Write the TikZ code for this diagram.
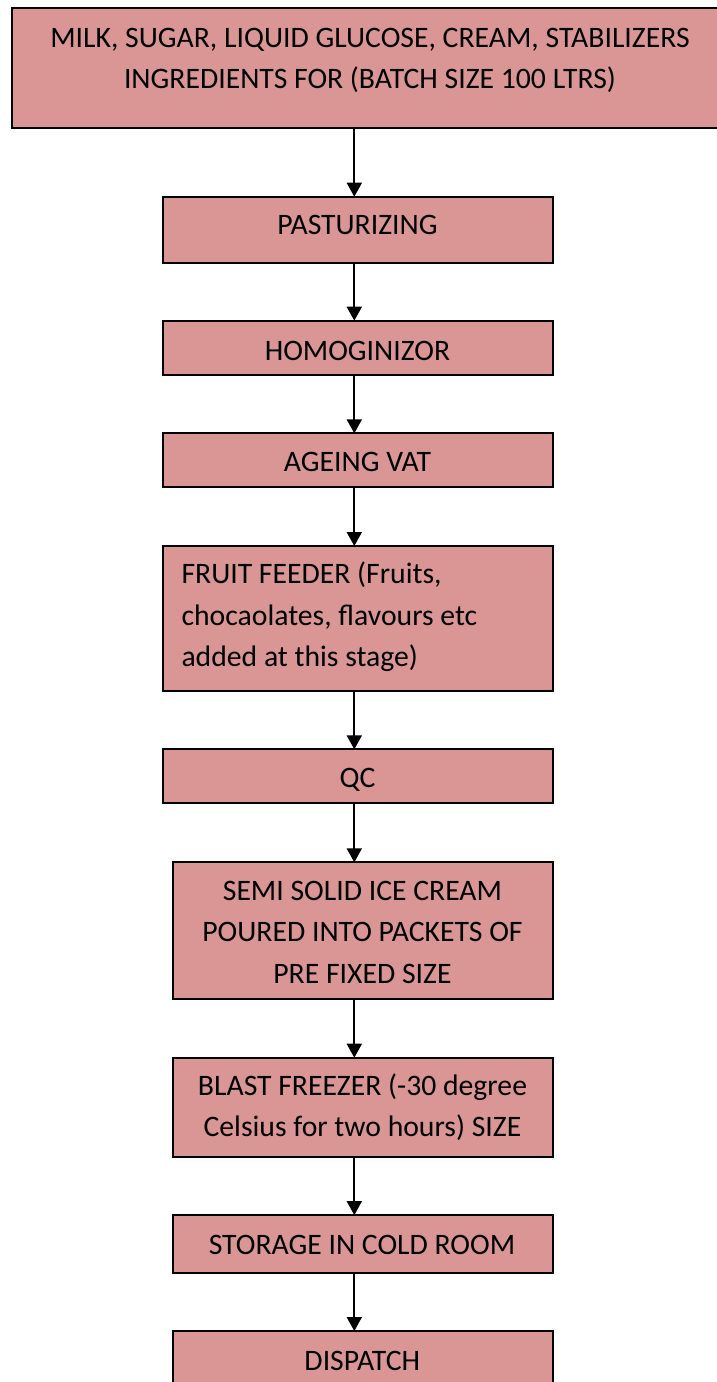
\documentclass[tikz,border=0pt]{standalone}
\usepackage{fontspec}
\setmainfont{Carlito}
\usetikzlibrary{arrows.meta}
\definecolor{boxfill}{RGB}{217,150,148}
\tikzset{
  stepbox/.style={draw=black, fill=boxfill, line width=2pt, rectangle, inner sep=0pt, outer sep=0pt},
  txt/.style={inner sep=0pt, outer sep=0pt, align=center, font=\fontsize{29.7}{41.5}\selectfont},
  ltxt/.style={txt, align=left, anchor=west},
  arr/.style={line width=2pt, -{Triangle[width=15pt,length=14pt]}}
}
\begin{document}
\begin{tikzpicture}[x=1pt,y=-1pt]
\useasboundingbox (0,0) rectangle (716,1382);
\fill[white] (0,0) rectangle (716,1382);
% boxes
\node[stepbox, minimum width=718pt, minimum height=120pt] (b1) at (371,68) {};
\node[stepbox, minimum width=390pt, minimum height=66pt] (b2) at (357.7,229.7) {};
\node[stepbox, minimum width=390pt, minimum height=54.6pt] (b3) at (357.7,348) {};
\node[stepbox, minimum width=390pt, minimum height=54pt] (b4) at (357.7,460.3) {};
\node[stepbox, minimum width=390pt, minimum height=145pt] (b5) at (357.7,618.5) {};
\node[stepbox, minimum width=390pt, minimum height=54pt] (b6) at (357.7,776.3) {};
\node[stepbox, minimum width=380pt, minimum height=136.4pt] (b7) at (362.7,930.5) {};
\node[stepbox, minimum width=380pt, minimum height=99pt] (b8) at (362.7,1107.2) {};
\node[stepbox, minimum width=380pt, minimum height=58.3pt] (b9) at (362.7,1244.2) {};
\node[stepbox, minimum width=380pt, minimum height=58pt] (b10) at (362.7,1360) {};
% texts
\node[txt] (t1) at (370,59.6) {\strut MILK, SUGAR, LIQUID GLUCOSE, CREAM, STABILIZERS\\\strut INGREDIENTS FOR (BATCH SIZE 100 LTRS)};
\node[txt] (t2) at (357.5,225.7) {\strut PASTURIZING};
\node[txt] (t3) at (357.5,351.7) {\strut HOMOGINIZOR};
\node[txt] (t4) at (357.5,463.4) {\strut AGEING VAT};
\node[ltxt] (t5) at (181.5,617) {\strut FRUIT FEEDER (Fruits,\\\strut chocaolates, flavours etc\\\strut added at this stage)};
\node[txt] (t6) at (357.5,779) {\strut QC};
\node[txt] (t7) at (362.5,933.4) {\strut SEMI SOLID ICE CREAM\\\strut POURED INTO PACKETS OF\\\strut PRE FIXED SIZE};
\node[txt] (t8) at (362.5,1107.5) {\strut BLAST FREEZER (-30 degree\\\strut Celsius for two hours) SIZE};
\node[txt] (t9) at (362,1245.7) {\strut STORAGE IN COLD ROOM};
\node[txt] (t10) at (362.3,1361.7) {\strut DISPATCH};
% arrows
\coordinate (ax) at (354.3,0);
\draw[arr] (b1.south -| ax) -- (b2.north -| ax);
\draw[arr] (b2.south -| ax) -- (b3.north -| ax);
\draw[arr] (b3.south -| ax) -- (b4.north -| ax);
\draw[arr] (b4.south -| ax) -- (b5.north -| ax);
\draw[arr] (b5.south -| ax) -- (b6.north -| ax);
\draw[arr] (b6.south -| ax) -- (b7.north -| ax);
\draw[arr] (b7.south -| ax) -- (b8.north -| ax);
\draw[arr] (b8.south -| ax) -- (b9.north -| ax);
\draw[arr] (b9.south -| ax) -- (b10.north -| ax);
\end{tikzpicture}
\end{document}
